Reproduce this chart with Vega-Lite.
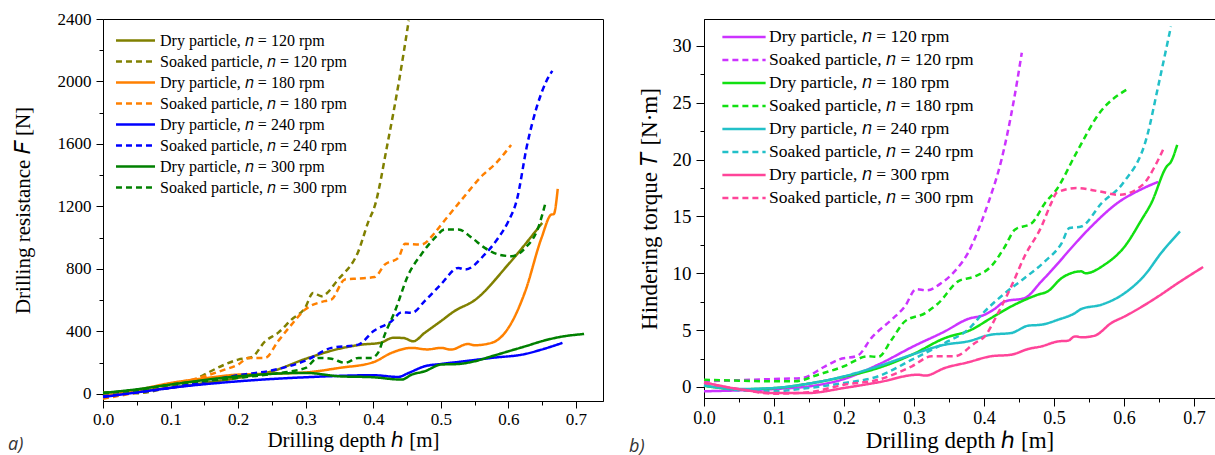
{
  "$schema": "https://vega.github.io/schema/vega-lite/v6.json",
  "background": "white",
  "padding": {"left": 7, "top": 9, "right": 0, "bottom": 0},
  "spacing": 101,
  "bounds": "flush",
  "config": {
    "font": "Liberation Serif",
    "view": {"stroke": "black", "strokeWidth": 1},
    "axis": {"domainColor": "black", "tickColor": "black", "labelColor": "black", "titleColor": "black", "grid": false, "labelFont": "Liberation Serif", "titleFont": "Liberation Serif", "titleFontWeight": "normal", "labelFlush": false, "labelOverlap": false, "tickWidth": 1, "domainWidth": 1}
  },
  "datasets": {
    "left": [
      {"series":"D120","h":0,"F":-10},{"series":"D120","h":0.05,"F":15},{"series":"D120","h":0.1,"F":40},{"series":"D120","h":0.15,"F":70},{"series":"D120","h":0.2,"F":103},{"series":"D120","h":0.25,"F":145},{"series":"D120","h":0.3,"F":225},{"series":"D120","h":0.35,"F":290},{"series":"D120","h":0.383,"F":316},{"series":"D120","h":0.41,"F":327},{"series":"D120","h":0.43,"F":360},{"series":"D120","h":0.445,"F":358},{"series":"D120","h":0.459,"F":337},{"series":"D120","h":0.476,"F":391},{"series":"D120","h":0.5,"F":466},{"series":"D120","h":0.52,"F":530},{"series":"D120","h":0.55,"F":600},{"series":"D120","h":0.6,"F":830},{"series":"D120","h":0.65,"F":1095},
      {"series":"S120","h":0,"F":10},{"series":"S120","h":0.05,"F":5},{"series":"S120","h":0.1,"F":45},{"series":"S120","h":0.131,"F":81},{"series":"S120","h":0.15,"F":124},{"series":"S120","h":0.18,"F":188},{"series":"S120","h":0.2,"F":220},{"series":"S120","h":0.22,"F":235},{"series":"S120","h":0.24,"F":337},{"series":"S120","h":0.259,"F":391},{"series":"S120","h":0.279,"F":476},{"series":"S120","h":0.299,"F":551},{"series":"S120","h":0.311,"F":647},{"series":"S120","h":0.323,"F":626},{"series":"S120","h":0.348,"F":733},{"series":"S120","h":0.378,"F":914},{"series":"S120","h":0.393,"F":1106},{"series":"S120","h":0.402,"F":1200},{"series":"S120","h":0.421,"F":1600},{"series":"S120","h":0.438,"F":2000},{"series":"S120","h":0.4525,"F":2390},
      {"series":"D180","h":0,"F":-15},{"series":"D180","h":0.05,"F":25},{"series":"D180","h":0.101,"F":71},{"series":"D180","h":0.15,"F":100},{"series":"D180","h":0.2,"F":124},{"series":"D180","h":0.25,"F":130},{"series":"D180","h":0.3,"F":138},{"series":"D180","h":0.35,"F":167},{"series":"D180","h":0.4,"F":203},{"series":"D180","h":0.427,"F":263},{"series":"D180","h":0.457,"F":295},{"series":"D180","h":0.48,"F":285},{"series":"D180","h":0.5,"F":295},{"series":"D180","h":0.515,"F":284},{"series":"D180","h":0.54,"F":320},{"series":"D180","h":0.55,"F":312},{"series":"D180","h":0.575,"F":327},{"series":"D180","h":0.6,"F":423},{"series":"D180","h":0.625,"F":658},{"series":"D180","h":0.649,"F":999},{"series":"D180","h":0.664,"F":1149},{"series":"D180","h":0.667,"F":1150},{"series":"D180","h":0.673,"F":1313},
      {"series":"S180","h":0,"F":-30},{"series":"S180","h":0.05,"F":10},{"series":"S180","h":0.1,"F":60},{"series":"S180","h":0.15,"F":113},{"series":"S180","h":0.18,"F":156},{"series":"S180","h":0.2,"F":188},{"series":"S180","h":0.215,"F":231},{"series":"S180","h":0.24,"F":231},{"series":"S180","h":0.259,"F":337},{"series":"S180","h":0.279,"F":444},{"series":"S180","h":0.299,"F":540},{"series":"S180","h":0.328,"F":594},{"series":"S180","h":0.338,"F":604},{"series":"S180","h":0.358,"F":733},{"series":"S180","h":0.378,"F":739},{"series":"S180","h":0.402,"F":748},{"series":"S180","h":0.417,"F":828},{"series":"S180","h":0.437,"F":871},{"series":"S180","h":0.447,"F":961},{"series":"S180","h":0.471,"F":957},{"series":"S180","h":0.491,"F":1031},{"series":"S180","h":0.5,"F":1080},{"series":"S180","h":0.529,"F":1234},{"series":"S180","h":0.563,"F":1405},{"series":"S180","h":0.58,"F":1470},{"series":"S180","h":0.604,"F":1594},
      {"series":"D240","h":0,"F":-20},{"series":"D240","h":0.05,"F":10},{"series":"D240","h":0.1,"F":39},{"series":"D240","h":0.2,"F":81},{"series":"D240","h":0.3,"F":107},{"series":"D240","h":0.4,"F":120},{"series":"D240","h":0.437,"F":109},{"series":"D240","h":0.452,"F":134},{"series":"D240","h":0.476,"F":177},{"series":"D240","h":0.5,"F":192},{"series":"D240","h":0.526,"F":205},{"series":"D240","h":0.575,"F":231},{"series":"D240","h":0.625,"F":256},{"series":"D240","h":0.649,"F":284},{"series":"D240","h":0.68,"F":327},
      {"series":"S240","h":0,"F":-15},{"series":"S240","h":0.05,"F":10},{"series":"S240","h":0.1,"F":39},{"series":"S240","h":0.15,"F":80},{"series":"S240","h":0.2,"F":120},{"series":"S240","h":0.249,"F":150},{"series":"S240","h":0.3,"F":214},{"series":"S240","h":0.338,"F":295},{"series":"S240","h":0.378,"F":316},{"series":"S240","h":0.4,"F":401},{"series":"S240","h":0.427,"F":466},{"series":"S240","h":0.442,"F":523},{"series":"S240","h":0.457,"F":519},{"series":"S240","h":0.476,"F":594},{"series":"S240","h":0.5,"F":701},{"series":"S240","h":0.526,"F":807},{"series":"S240","h":0.536,"F":796},{"series":"S240","h":0.565,"F":893},{"series":"S240","h":0.585,"F":999},{"series":"S240","h":0.6,"F":1106},{"series":"S240","h":0.612,"F":1234},{"series":"S240","h":0.628,"F":1600},{"series":"S240","h":0.656,"F":2000},{"series":"S240","h":0.665,"F":2068},
      {"series":"D300","h":0,"F":6},{"series":"D300","h":0.05,"F":30},{"series":"D300","h":0.1,"F":60},{"series":"D300","h":0.2,"F":113},{"series":"D300","h":0.3,"F":135},{"series":"D300","h":0.35,"F":113},{"series":"D300","h":0.4,"F":107},{"series":"D300","h":0.442,"F":92},{"series":"D300","h":0.457,"F":124},{"series":"D300","h":0.476,"F":145},{"series":"D300","h":0.5,"F":188},{"series":"D300","h":0.526,"F":192},{"series":"D300","h":0.55,"F":209},{"series":"D300","h":0.575,"F":241},{"series":"D300","h":0.6,"F":273},{"series":"D300","h":0.625,"F":305},{"series":"D300","h":0.649,"F":337},{"series":"D300","h":0.674,"F":363},{"series":"D300","h":0.712,"F":384},
      {"series":"S300","h":0,"F":6},{"series":"S300","h":0.05,"F":25},{"series":"S300","h":0.1,"F":60},{"series":"S300","h":0.2,"F":103},{"series":"S300","h":0.249,"F":128},{"series":"S300","h":0.3,"F":167},{"series":"S300","h":0.318,"F":231},{"series":"S300","h":0.338,"F":226},{"series":"S300","h":0.358,"F":199},{"series":"S300","h":0.378,"F":231},{"series":"S300","h":0.397,"F":231},{"series":"S300","h":0.407,"F":263},{"series":"S300","h":0.417,"F":380},{"series":"S300","h":0.432,"F":529},{"series":"S300","h":0.452,"F":764},{"series":"S300","h":0.471,"F":893},{"series":"S300","h":0.491,"F":999},{"series":"S300","h":0.506,"F":1053},{"series":"S300","h":0.526,"F":1053},{"series":"S300","h":0.546,"F":999},{"series":"S300","h":0.565,"F":935},{"series":"S300","h":0.585,"F":893},{"series":"S300","h":0.605,"F":882},{"series":"S300","h":0.625,"F":935},{"series":"S300","h":0.644,"F":1063},{"series":"S300","h":0.655,"F":1225}
    ],
    "right": [
      {"series":"D120","h":0,"T":-0.38},{"series":"D120","h":0.05,"T":-0.3},{"series":"D120","h":0.1,"T":-0.18},{"series":"D120","h":0.15,"T":0.05},{"series":"D120","h":0.2,"T":0.7},{"series":"D120","h":0.25,"T":2.0},{"series":"D120","h":0.3,"T":3.6},{"series":"D120","h":0.344,"T":4.89},{"series":"D120","h":0.377,"T":5.98},{"series":"D120","h":0.401,"T":6.36},{"series":"D120","h":0.415,"T":6.86},{"series":"D120","h":0.43,"T":7.53},{"series":"D120","h":0.458,"T":7.82},{"series":"D120","h":0.482,"T":9.29},{"series":"D120","h":0.506,"T":10.9},{"series":"D120","h":0.52,"T":11.9},{"series":"D120","h":0.553,"T":14.1},{"series":"D120","h":0.591,"T":16.2},{"series":"D120","h":0.625,"T":17.4},{"series":"D120","h":0.649,"T":18.05},
      {"series":"S120","h":0,"T":0.5},{"series":"S120","h":0.1,"T":0.7},{"series":"S120","h":0.14,"T":0.79},{"series":"S120","h":0.173,"T":1.82},{"series":"S120","h":0.192,"T":2.4},{"series":"S120","h":0.22,"T":2.78},{"series":"S120","h":0.239,"T":4.3},{"series":"S120","h":0.268,"T":5.92},{"series":"S120","h":0.287,"T":7.09},{"series":"S120","h":0.303,"T":8.61},{"series":"S120","h":0.318,"T":8.5},{"series":"S120","h":0.339,"T":9.14},{"series":"S120","h":0.358,"T":10.17},{"series":"S120","h":0.377,"T":11.78},{"series":"S120","h":0.392,"T":13.83},{"series":"S120","h":0.406,"T":16.17},{"series":"S120","h":0.425,"T":20},{"series":"S120","h":0.442,"T":25},{"series":"S120","h":0.454,"T":29.4},
      {"series":"D180","h":0,"T":0.1},{"series":"D180","h":0.05,"T":-0.2},{"series":"D180","h":0.1,"T":-0.1},{"series":"D180","h":0.15,"T":0.3},{"series":"D180","h":0.2,"T":0.9},{"series":"D180","h":0.249,"T":1.67},{"series":"D180","h":0.297,"T":2.84},{"series":"D180","h":0.344,"T":4.3},{"series":"D180","h":0.382,"T":5.04},{"series":"D180","h":0.41,"T":6.06},{"series":"D180","h":0.439,"T":7.09},{"series":"D180","h":0.477,"T":8.12},{"series":"D180","h":0.491,"T":8.41},{"series":"D180","h":0.511,"T":9.58},{"series":"D180","h":0.539,"T":10.17},{"series":"D180","h":0.545,"T":10.0},{"series":"D180","h":0.572,"T":10.75},{"series":"D180","h":0.601,"T":12.36},{"series":"D180","h":0.625,"T":14.7},{"series":"D180","h":0.639,"T":16.17},{"series":"D180","h":0.661,"T":19.4},{"series":"D180","h":0.667,"T":19.8},{"series":"D180","h":0.676,"T":21.3},
      {"series":"S180","h":0,"T":0.64},{"series":"S180","h":0.05,"T":0.55},{"series":"S180","h":0.1,"T":0.5},{"series":"S180","h":0.13,"T":0.5},{"series":"S180","h":0.163,"T":1.08},{"series":"S180","h":0.2,"T":1.82},{"series":"S180","h":0.234,"T":2.7},{"series":"S180","h":0.249,"T":2.64},{"series":"S180","h":0.268,"T":4.16},{"series":"S180","h":0.287,"T":5.77},{"series":"S180","h":0.316,"T":6.5},{"series":"S180","h":0.335,"T":7.38},{"series":"S180","h":0.363,"T":9.29},{"series":"S180","h":0.387,"T":9.73},{"series":"S180","h":0.41,"T":10.6},{"series":"S180","h":0.43,"T":12.36},{"series":"S180","h":0.444,"T":13.83},{"series":"S180","h":0.468,"T":14.4},{"series":"S180","h":0.487,"T":16.17},{"series":"S180","h":0.504,"T":17.4},{"series":"S180","h":0.532,"T":20.6},{"series":"S180","h":0.565,"T":24.1},{"series":"S180","h":0.605,"T":26.2},
      {"series":"D240","h":0,"T":0.12},{"series":"D240","h":0.054,"T":-0.18},{"series":"D240","h":0.1,"T":-0.09},{"series":"D240","h":0.15,"T":0.3},{"series":"D240","h":0.2,"T":0.94},{"series":"D240","h":0.249,"T":1.82},{"series":"D240","h":0.297,"T":2.84},{"series":"D240","h":0.344,"T":3.72},{"series":"D240","h":0.377,"T":4.01},{"series":"D240","h":0.41,"T":4.6},{"series":"D240","h":0.439,"T":4.75},{"series":"D240","h":0.463,"T":5.39},{"series":"D240","h":0.482,"T":5.48},{"series":"D240","h":0.506,"T":5.92},{"series":"D240","h":0.53,"T":6.5},{"series":"D240","h":0.539,"T":6.86},{"series":"D240","h":0.568,"T":7.24},{"series":"D240","h":0.601,"T":8.26},{"series":"D240","h":0.63,"T":9.87},{"series":"D240","h":0.653,"T":11.78},{"series":"D240","h":0.68,"T":13.68},
      {"series":"S240","h":0,"T":0.2},{"series":"S240","h":0.054,"T":-0.3},{"series":"S240","h":0.1,"T":-0.38},{"series":"S240","h":0.149,"T":-0.09},{"series":"S240","h":0.2,"T":0.35},{"series":"S240","h":0.249,"T":0.94},{"series":"S240","h":0.297,"T":2.4},{"series":"S240","h":0.344,"T":3.87},{"series":"S240","h":0.377,"T":5.04},{"series":"S240","h":0.401,"T":6.65},{"series":"S240","h":0.43,"T":8.26},{"series":"S240","h":0.458,"T":9.58},{"series":"S240","h":0.487,"T":11.05},{"series":"S240","h":0.511,"T":12.66},{"series":"S240","h":0.522,"T":13.98},{"series":"S240","h":0.539,"T":14.12},{"series":"S240","h":0.568,"T":16.17},{"series":"S240","h":0.599,"T":17.96},{"series":"S240","h":0.633,"T":22.07},{"series":"S240","h":0.649,"T":26.5},{"series":"S240","h":0.667,"T":31.7},
      {"series":"D300","h":0,"T":0.41},{"series":"D300","h":0.054,"T":-0.23},{"series":"D300","h":0.1,"T":-0.53},{"series":"D300","h":0.149,"T":-0.53},{"series":"D300","h":0.2,"T":-0.09},{"series":"D300","h":0.249,"T":0.41},{"series":"D300","h":0.306,"T":1.08},{"series":"D300","h":0.316,"T":1.0},{"series":"D300","h":0.344,"T":1.67},{"series":"D300","h":0.377,"T":2.17},{"series":"D300","h":0.41,"T":2.7},{"series":"D300","h":0.439,"T":2.84},{"series":"D300","h":0.463,"T":3.34},{"series":"D300","h":0.482,"T":3.57},{"series":"D300","h":0.506,"T":4.01},{"series":"D300","h":0.52,"T":4.07},{"series":"D300","h":0.53,"T":4.45},{"series":"D300","h":0.54,"T":4.37},{"series":"D300","h":0.558,"T":4.51},{"series":"D300","h":0.582,"T":5.63},{"series":"D300","h":0.601,"T":6.21},{"series":"D300","h":0.649,"T":7.97},{"series":"D300","h":0.677,"T":9.14},{"series":"D300","h":0.713,"T":10.55},
      {"series":"S300","h":0,"T":0.35},{"series":"S300","h":0.054,"T":-0.23},{"series":"S300","h":0.1,"T":-0.59},{"series":"S300","h":0.149,"T":-0.47},{"series":"S300","h":0.2,"T":0.2},{"series":"S300","h":0.249,"T":0.64},{"series":"S300","h":0.297,"T":1.82},{"series":"S300","h":0.325,"T":2.7},{"series":"S300","h":0.358,"T":2.7},{"series":"S300","h":0.387,"T":3.87},{"series":"S300","h":0.401,"T":4.45},{"series":"S300","h":0.42,"T":6.5},{"series":"S300","h":0.439,"T":8.85},{"series":"S300","h":0.458,"T":11.5},{"series":"S300","h":0.482,"T":14.1},{"series":"S300","h":0.496,"T":16.17},{"series":"S300","h":0.504,"T":17.1},{"series":"S300","h":0.532,"T":17.5},{"series":"S300","h":0.565,"T":17.2},{"series":"S300","h":0.593,"T":16.9},{"series":"S300","h":0.627,"T":17.8},{"series":"S300","h":0.644,"T":19.4},{"series":"S300","h":0.656,"T":20.9}
    ]
  },
  "hconcat": [
    {
      "width": 500,
      "height": 382,
      "data": {"name": "left"},
      "title": {"text": "a)", "orient": "bottom", "anchor": "start", "frame": "group", "dx": -95, "offset": -14, "font": "Open Sans", "fontStyle": "italic", "fontSize": 18, "fontWeight": "normal", "color": "#333333"},
      "mark": {"type": "line", "strokeWidth": 2.5, "interpolate": "monotone"},
      "encoding": {
        "x": {"field": "h", "type": "quantitative", "scale": {"domain": [0, 0.74], "nice": false, "zero": false},
          "axis": {"title": "Drilling depth ℎ [m]", "titleFontSize": 21, "titlePadding": 2, "labelFont": "Liberation Serif", "labelFontSize": 17, "labelPadding": 3,
            "values": [0,0.05,0.1,0.15,0.2,0.25,0.3,0.35,0.4,0.45,0.5,0.55,0.6,0.65,0.7],
            "labelExpr": "round(datum.value*100)%10===0 ? format(datum.value,'.1f') : ''",
            "tickSize": {"condition": {"test": "round(datum.value*100)%10===0", "value": 7}, "value": 4}}},
        "y": {"field": "F", "type": "quantitative", "scale": {"domain": [-45, 2400], "nice": false, "zero": false},
          "axis": {"title": "Drilling resistance 𝐹 [N]", "titleFontSize": 21, "titlePadding": 24, "labelFont": "Liberation Serif", "labelFontSize": 17, "labelPadding": 5,
            "values": [0,200,400,600,800,1000,1200,1400,1600,1800,2000,2200,2400],
            "labelExpr": "datum.value%400===0 ? format(datum.value,'d') : ''",
            "tickSize": {"condition": {"test": "datum.value%400===0", "value": 7}, "value": 4}}},
        "color": {"field": "series", "type": "nominal",
          "scale": {"domain": ["D120","S120","D180","S180","D240","S240","D300","S300"], "range": ["#808000","#808000","#FF8000","#FF8000","#0000FF","#0000FF","#008000","#008000"]},
          "legend": {"orient": "none", "legendX": 20, "legendY": 9, "padding": 0, "title": null, "labelFont": "Liberation Serif", "labelFontSize": 16, "labelColor": "black", "labelLimit": 0, "symbolType": "M-1.8,0H1.8", "symbolSize": 470, "symbolStrokeWidth": 2.5, "rowPadding": 0, "labelOffset": 12,
            "labelExpr": "(substring(datum.label,0,1)=='D' ? 'Dry' : 'Soaked') + ' particle, 𝑛 = ' + substring(datum.label,1,4) + ' rpm'"}},
        "strokeDash": {"field": "series", "type": "nominal",
          "scale": {"domain": ["D120","S120","D180","S180","D240","S240","D300","S300"], "range": [[1,0],[6,4],[1,0],[6,4],[1,0],[6,4],[1,0],[6,4]]},
          "legend": {"orient": "none", "legendX": 20, "legendY": 9, "padding": 0, "title": null, "labelFont": "Liberation Serif", "labelFontSize": 16, "labelColor": "black", "labelLimit": 0, "symbolType": "M-1.8,0H1.8", "symbolSize": 470, "symbolStrokeWidth": 2.5, "rowPadding": 0, "labelOffset": 12,
            "labelExpr": "(substring(datum.label,0,1)=='D' ? 'Dry' : 'Soaked') + ' particle, 𝑛 = ' + substring(datum.label,1,4) + ' rpm'"}}
      }
    },
    {
      "width": 511,
      "height": 379,
      "data": {"name": "right"},
      "title": {"text": "b)", "orient": "bottom", "anchor": "start", "frame": "group", "dx": -75, "offset": -14, "font": "Open Sans", "fontStyle": "italic", "fontSize": 18, "fontWeight": "normal", "color": "#333333"},
      "mark": {"type": "line", "strokeWidth": 2.5, "interpolate": "monotone"},
      "encoding": {
        "x": {"field": "h", "type": "quantitative", "scale": {"domain": [0, 0.73], "nice": false, "zero": false},
          "axis": {"title": "Drilling depth ℎ [m]", "titleFontSize": 23, "titlePadding": 2, "labelFont": "Liberation Serif", "labelFontSize": 18, "labelPadding": 3,
            "values": [0,0.05,0.1,0.15,0.2,0.25,0.3,0.35,0.4,0.45,0.5,0.55,0.6,0.65,0.7],
            "labelExpr": "round(datum.value*100)%10===0 ? format(datum.value,'.1f') : ''",
            "tickSize": {"condition": {"test": "round(datum.value*100)%10===0", "value": 8}, "value": 4}}},
        "y": {"field": "T", "type": "quantitative", "scale": {"domain": [-0.97, 32.37], "nice": false, "zero": false},
          "axis": {"title": "Hindering torque 𝑇 [N·m]", "titleFontSize": 23, "titlePadding": 11, "labelFont": "Liberation Serif", "labelFontSize": 19, "labelPadding": 5,
            "values": [0,2.5,5,7.5,10,12.5,15,17.5,20,22.5,25,27.5,30],
            "labelExpr": "datum.value%5===0 ? format(datum.value,'d') : ''",
            "tickSize": {"condition": {"test": "datum.value%5===0", "value": 8}, "value": 4}}},
        "color": {"field": "series", "type": "nominal",
          "scale": {"domain": ["D120","S120","D180","S180","D240","S240","D300","S300"], "range": ["#CC33FF","#CC33FF","#11E011","#11E011","#22C0C8","#22C0C8","#FF4499","#FF4499"]},
          "legend": {"orient": "none", "legendX": 26, "legendY": 4, "padding": 0, "title": null, "labelFont": "Liberation Serif", "labelFontSize": 17.5, "labelColor": "black", "labelLimit": 0, "symbolType": "M-1.73,0H1.73", "symbolSize": 625, "symbolStrokeWidth": 2.5, "rowPadding": 0, "labelOffset": 11,
            "labelExpr": "(substring(datum.label,0,1)=='D' ? 'Dry' : 'Soaked') + ' particle, 𝑛 = ' + substring(datum.label,1,4) + ' rpm'"}},
        "strokeDash": {"field": "series", "type": "nominal",
          "scale": {"domain": ["D120","S120","D180","S180","D240","S240","D300","S300"], "range": [[1,0],[6,4],[1,0],[6,4],[1,0],[6,4],[1,0],[6,4]]},
          "legend": {"orient": "none", "legendX": 26, "legendY": 4, "padding": 0, "title": null, "labelFont": "Liberation Serif", "labelFontSize": 17.5, "labelColor": "black", "labelLimit": 0, "symbolType": "M-1.73,0H1.73", "symbolSize": 625, "symbolStrokeWidth": 2.5, "rowPadding": 0, "labelOffset": 11,
            "labelExpr": "(substring(datum.label,0,1)=='D' ? 'Dry' : 'Soaked') + ' particle, 𝑛 = ' + substring(datum.label,1,4) + ' rpm'"}}
      }
    }
  ],
  "resolve": {"scale": {"color": "independent", "strokeDash": "independent", "x": "independent", "y": "independent"}, "legend": {"color": "independent", "strokeDash": "independent"}}
}
